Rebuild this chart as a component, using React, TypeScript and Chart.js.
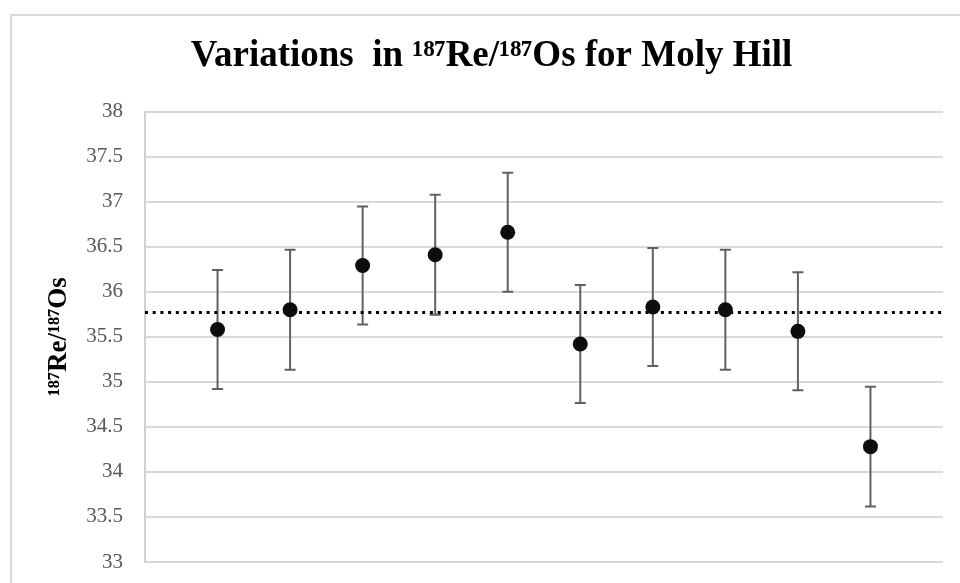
import React, { useEffect, useRef } from "react";
import { Chart, registerables } from "chart.js";

Chart.register(...registerables);

// ---- data ----
const sampleX = [1, 2, 3, 4, 5, 6, 7, 8, 9, 10];
const ratioValues = [35.58, 35.8, 36.29, 36.41, 36.66, 35.42, 35.83, 35.8, 35.56, 34.28];
const errorValues = [0.66, 0.665, 0.655, 0.665, 0.66, 0.655, 0.655, 0.665, 0.655, 0.665];
const meanValue = 35.77;
const meanSpan = [0, 11];
const yMin = 33;
const yMax = 38;
const yStep = 0.5;
const titleText = "Variations  in \u00B9\u2078\u2077Re/\u00B9\u2078\u2077Os for Moly Hill";
const yTitleText = "\u00B9\u2078\u2077Re/\u00B9\u2078\u2077Os";

const SERIF = "'Liberation Serif', 'Times New Roman', serif";
const BAR_COLOR = "#606060";

export default function App() {
  const ref = useRef<HTMLCanvasElement>(null);

  useEffect(() => {
    if (!ref.current) return;
    const points = sampleX.map((x, i) => ({ x, y: ratioValues[i] }));
    const stems: { x: number; y: number | null }[] = [];
    const caps: { x: number; y: number }[] = [];
    sampleX.forEach((x, i) => {
      const lo = ratioValues[i] - errorValues[i];
      const hi = ratioValues[i] + errorValues[i];
      stems.push({ x, y: lo }, { x, y: hi }, { x, y: null });
      caps.push({ x, y: lo }, { x, y: hi });
    });
    const mean = meanSpan.map((x) => ({ x, y: meanValue }));

    const chart = new Chart(ref.current, {
      type: "scatter",
      data: {
        datasets: [
          {
            label: "Re/Os",
            data: points,
            pointRadius: 7.5,
            pointHoverRadius: 7.5,
            backgroundColor: "#0d0d0d",
            borderWidth: 0,
            showLine: false,
            order: 0,
          },
          {
            label: "mean",
            data: mean,
            showLine: true,
            borderColor: "#000000",
            borderWidth: 3,
            borderDash: [3, 4.7],
            pointRadius: 0,
            order: 1,
          },
          {
            label: "error",
            data: stems as any,
            showLine: true,
            spanGaps: false,
            borderColor: BAR_COLOR,
            borderWidth: 2,
            pointRadius: 0,
            order: 2,
          },
          {
            label: "caps",
            data: caps,
            showLine: false,
            pointStyle: "line",
            pointRadius: 5.5,
            pointHoverRadius: 5.5,
            borderColor: BAR_COLOR,
            backgroundColor: BAR_COLOR,
            borderWidth: 2,
            order: 2,
          },
        ],
      },
      options: {
        responsive: false,
        devicePixelRatio: 1,
        animation: false,
        events: [],
        layout: { padding: { left: 40, right: 17, top: 0, bottom: 21 } },
        plugins: {
          legend: { display: false },
          tooltip: { enabled: false },
          title: {
            display: true,
            text: titleText,
            color: "#000000",
            font: { family: SERIF, size: 37, weight: "bold" },
            padding: { top: 34.6, bottom: 32.5 },
          },
        },
        scales: {
          x: { type: "linear", min: meanSpan[0], max: meanSpan[1], display: false },
          y: {
            type: "linear",
            min: yMin,
            max: yMax,
            afterFit: (s: any) => {
              s.width = 105;
              s.paddingTop = 0;
              s.paddingBottom = 0;
            },
            ticks: {
              stepSize: yStep,
              padding: 22,
              color: "#595959",
              font: { family: SERIF, size: 21 },
              callback: (v: any) => String(Number(v)),
            },
            grid: { color: "#d9d9d9", lineWidth: 2, drawTicks: false },
            border: { display: true, color: "#d0d0d0", width: 2 },
            title: {
              display: true,
              text: yTitleText,
              color: "#000000",
              font: { family: SERIF, size: 27, weight: "bold" },
              padding: { top: 3, bottom: 0 },
            },
          },
        },
      },
    } as any);
    return () => chart.destroy();
  }, []);

  return (
    <div
      style={{
        position: "fixed",
        left: 0,
        top: 0,
        width: 960,
        height: 583,
        overflow: "hidden",
        background: "#ffffff",
      }}
    >
      <div
        style={{
          position: "absolute",
          left: 10,
          top: 14,
          width: 1000,
          height: 700,
          border: "2px solid #d9d9d9",
          boxSizing: "border-box",
        }}
      />
      <canvas
        ref={ref}
        width={960}
        height={583}
        style={{ position: "absolute", left: 0, top: 0, width: 960, height: 583 }}
      />
    </div>
  );
}
